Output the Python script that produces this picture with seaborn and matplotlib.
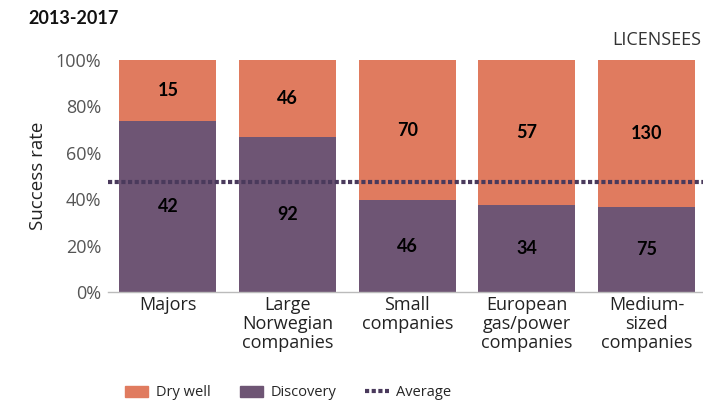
import pandas as pd
import matplotlib.pyplot as plt
import seaborn as sns
from matplotlib.patches import Patch
from matplotlib.lines import Line2D

categories = ["Majors", "Large\nNorwegian\ncompanies", "Small\ncompanies",
              "European\ngas/power\ncompanies", "Medium-\nsized\ncompanies"]
discovery = [42, 92, 46, 34, 75]
dry_well = [15, 46, 70, 57, 130]

df = pd.DataFrame({"category": categories, "Discovery": discovery, "Dry well": dry_well})
df["total"] = df["Discovery"] + df["Dry well"]
df["disc_share"] = df["Discovery"] / df["total"] * 100
df["full"] = 100.0
average = df["Discovery"].sum() / df["total"].sum() * 100

orange = "#E07B5F"
purple = "#6E5574"
avg_col = "#4A3A5C"

sns.set_theme(style="white")
plt.rcParams["font.family"] = ["Open Sans", "DejaVu Sans"]
bold_font = ["Lato", "DejaVu Sans"]

fig = plt.figure(figsize=(7.03, 4.01), dpi=100)
ax = fig.add_axes([108 / 703, 1 - 292 / 401, 1 - 108 / 703 + 0.005, (292 - 60) / 401])

sns.barplot(data=df, x="category", y="full", color=orange, width=0.81,
            saturation=1, linewidth=0, ax=ax)
sns.barplot(data=df, x="category", y="disc_share", color=purple, width=0.81,
            saturation=1, linewidth=0, ax=ax)

ax.axhline(average, color=avg_col, lw=3, ls=(0, (1, 0.6)), zorder=5)

for i, row in df.iterrows():
    ax.text(i, row["disc_share"] / 2, str(row["Discovery"]), ha="center", va="center",
            fontsize=13, fontweight="bold", family=bold_font, color="black", zorder=6)
    ax.text(i, (row["disc_share"] + 100) / 2, str(row["Dry well"]), ha="center",
            va="center", fontsize=13, fontweight="bold", family=bold_font,
            color="black", zorder=6)

ax.set_xlim(-0.5, 4.5)
ax.set_ylim(0, 100)
ax.set_yticks(range(0, 101, 20))
ax.set_yticklabels([f"{v}%" for v in range(0, 101, 20)], color="#555555", fontsize=13)
ax.set_xticks(range(len(categories)))
ax.set_xticklabels(categories, linespacing=1.05)
ax.tick_params(axis="x", labelsize=13, labelcolor="#222222", length=0, pad=3)
ax.tick_params(axis="y", length=0, pad=5)
ax.set_xlabel("")
ax.set_ylabel("Success rate", fontsize=13.5, color="#222222", labelpad=6)
for s in ["top", "right", "left"]:
    ax.spines[s].set_visible(False)
ax.spines["bottom"].set_color("#BBBBBB")
ax.spines["bottom"].set_linewidth(1)

fig.text(28 / 703, 1 - 18 / 401, "2013-2017", fontsize=13, fontweight="bold",
         family=bold_font, ha="left", va="center", color="#111111")
fig.text(612 / 703, 1 - 40 / 401, "LICENSEES", fontsize=13, ha="left", va="center",
         color="#333333")

handles = [Patch(color=orange, label="Dry well"),
           Patch(color=purple, label="Discovery"),
           Line2D([0], [0], color=avg_col, lw=3, ls=(0, (1, 0.6)), label="Average")]
fig.legend(handles=handles, loc="center left", bbox_to_anchor=(112 / 703, 8 / 401),
           ncol=3, frameon=False, fontsize=10.5, handlelength=1.6, handleheight=0.8,
           columnspacing=2.0, handletextpad=0.5)

fig.savefig("out.png", dpi=100)
